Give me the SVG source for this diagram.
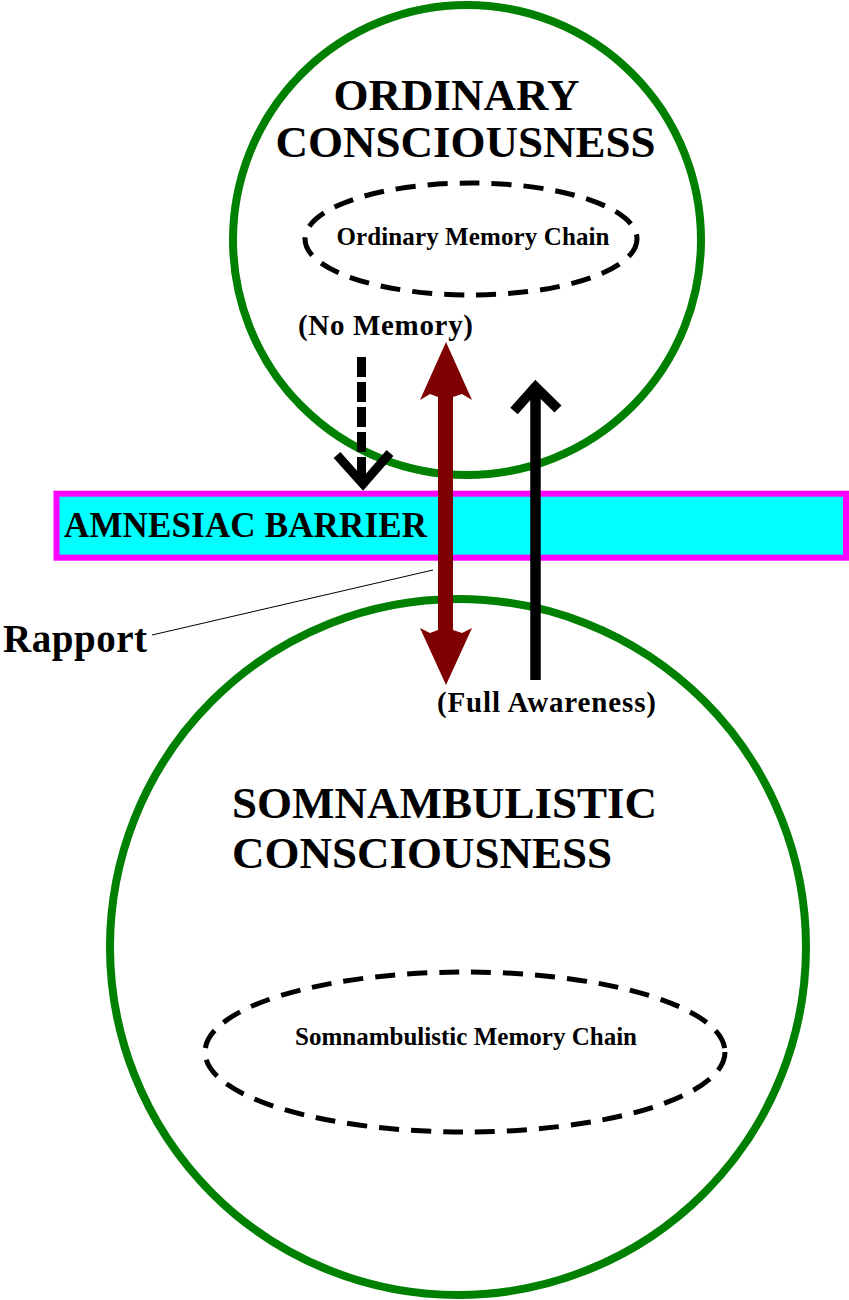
<svg xmlns="http://www.w3.org/2000/svg" width="849" height="1300" viewBox="0 0 849 1300">
<style>
.circ{fill:#ffffff;stroke:#008000;stroke-width:8}
.chain{fill:none;stroke:#000;stroke-width:5;stroke-dasharray:20 12}
.t{font-family:"Liberation Serif","Times New Roman",serif;font-weight:bold;fill:#000}
.big{font-size:45px}
.small{font-size:25px}
.lbl{font-size:29px}
</style>
<rect width="849" height="1300" fill="#ffffff"/>
<g id="ordinary">
<ellipse class="circ" cx="467" cy="240" rx="234" ry="235"/>
<text class="t big" x="456.5" y="110" text-anchor="middle">ORDINARY</text>
<text class="t big" x="465.5" y="157" text-anchor="middle">CONSCIOUSNESS</text>
</g>
<g id="ordinary-chain">
<ellipse class="chain" cx="471" cy="239" rx="166" ry="56"/>
<text class="t small" x="473" y="245" text-anchor="middle" textLength="273">Ordinary Memory Chain</text>
</g>
<g id="somnambulistic">
<ellipse class="circ" cx="458" cy="947" rx="348" ry="348"/>
<text class="t big" x="232" y="818">SOMNAMBULISTIC</text>
<text class="t big" x="232" y="868">CONSCIOUSNESS</text>
</g>
<g id="somnambulistic-chain">
<ellipse class="chain" cx="465" cy="1052" rx="260" ry="80"/>
<text class="t small" x="295" y="1045" textLength="342">Somnambulistic Memory Chain</text>
</g>
<g id="barrier">
<rect x="56.5" y="493.7" width="789.5" height="64" fill="#00ffff" stroke="#ff00ff" stroke-width="6"/>
<text class="t" x="64" y="537" font-size="35" textLength="363">AMNESIAC BARRIER</text>
</g>
<g id="labels">
<text class="t lbl" x="298" y="335" textLength="175">(No Memory)</text>
<text class="t lbl" x="437" y="712" textLength="219">(Full Awareness)</text>
<text class="t" x="3" y="652" font-size="39" textLength="144">Rapport</text>
</g>
<g id="connectors">
<line x1="152" y1="635" x2="433" y2="570" stroke="#000" stroke-width="1"/>
<line x1="361.5" y1="357" x2="361.5" y2="482" stroke="#000" stroke-width="9" stroke-dasharray="20 5"/>
<polyline points="337,455 363,484 390,453" fill="none" stroke="#000" stroke-width="9" stroke-linejoin="miter"/>
<polygon fill="#7f0000" points="446,342 472,400 462,394 453,397 453,630 462,633 472,628 446,685 420,628 430,633 438,630 438,397 430,394 420,400"/>
<line x1="535.5" y1="385" x2="535.5" y2="680" stroke="#000" stroke-width="10.5"/>
<polyline points="514,411 535.5,387 558,409" fill="none" stroke="#000" stroke-width="10" stroke-linejoin="miter"/>
</g>
</svg>
